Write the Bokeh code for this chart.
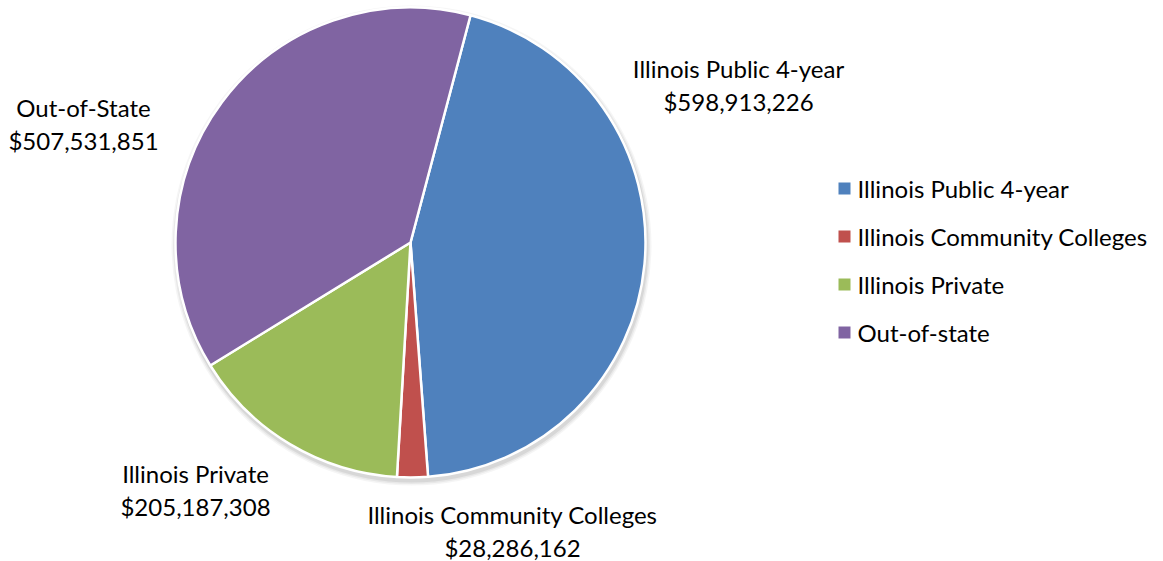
import math
from bokeh.plotting import figure
from bokeh.models import Range1d, ColumnDataSource
from bokeh.core.properties import value
from bokeh.embed import file_html
from bokeh.resources import INLINE

# ---- data ----
categories = ["Illinois Public 4-year", "Illinois Community Colleges", "Illinois Private", "Out-of-state"]
label_names = ["Illinois Public 4-year", "Illinois Community Colleges", "Illinois Private", "Out-of-State"]
amounts = [598913226, 28286162, 205187308, 507531851]
colors = ["#4F81BD", "#C0504D", "#9BBB59", "#8064A2"]

# ---- layout (image pixel coords, y down) ----
W, H = 1163, 561
CX, CY, R = 410, 242, 235
FIRST_ANGLE = 14.8  # degrees clockwise from 12 o'clock
label_pos = [(738, 68), (512, 514), (195, 473), (83, 107)]
LINE_GAP = 33
FONT = "Lato"
FS = "24px"
leg_x, leg_y0, leg_dy = 844, 188, 48

def fy(y):
    return H - y

p = figure(width=W, height=H, output_backend="svg", toolbar_location=None,
           x_range=Range1d(0, W), y_range=Range1d(0, H),
           min_border=0)
p.axis.visible = False
p.grid.visible = False
p.outline_line_color = None
p.background_fill_color = "white"

# shadow
for dr, a in [(5, 0.04), (3.5, 0.05), (2, 0.07)]:
    p.circle(x=[CX + 1], y=[fy(CY + 3)], radius=R + dr, fill_color="#000000",
             fill_alpha=a, line_color=None)

total = float(sum(amounts))
starts, ends = [], []
acc = FIRST_ANGLE
for v in amounts:
    a0 = acc
    a1 = acc + 360.0 * v / total
    starts.append(math.radians(90 - a0))
    ends.append(math.radians(90 - a1))
    acc = a1

src = ColumnDataSource(dict(x=[CX] * 4, y=[fy(CY)] * 4, s=starts, e=ends, c=colors))
p.wedge(x="x", y="y", radius=R, start_angle="s", end_angle="e", direction="clock",
        fill_color="c", line_color="white", line_width=2.5, source=src)

# data labels
for (lx, ly), name, amt in zip(label_pos, label_names, amounts):
    p.text(x=[lx, lx], y=[fy(ly), fy(ly + LINE_GAP)], text=[name, "${:,}".format(amt)],
           text_font=value(FONT), text_font_size=FS, text_color="#000000",
           text_align="center", text_baseline="middle")

# legend
lx = [leg_x] * 4
ly = [fy(leg_y0 + i * leg_dy) for i in range(4)]
p.scatter(x=lx, y=ly, marker="square", size=12, fill_color=colors, line_color=None)
p.text(x=[leg_x + 13] * 4, y=ly, text=categories, text_font=value(FONT), text_font_size=FS,
       text_color="#000000", text_align="left", text_baseline="middle")

open("out.html", "w").write(file_html(p, INLINE))
